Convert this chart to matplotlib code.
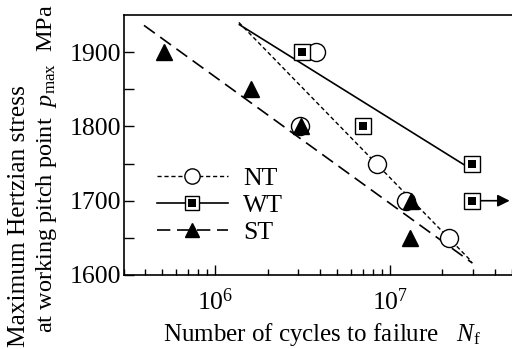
import matplotlib
matplotlib.use('Agg')
import matplotlib.pyplot as plt
from matplotlib.ticker import FixedLocator, LogLocator, NullFormatter, LogFormatterSciNotation
from matplotlib.lines import Line2D

plt.rcParams['font.family'] = ['Liberation Serif', 'DejaVu Serif']
plt.rcParams['mathtext.fontset'] = 'custom'
plt.rcParams['mathtext.rm'] = 'Liberation Serif'
plt.rcParams['mathtext.it'] = 'Liberation Serif:italic'
plt.rcParams['mathtext.bf'] = 'Liberation Serif:bold'

# ---- data ----
nt_cycles = [3.8e6, 8.4e6, 3.05e6, 1.24e7, 2.17e7]
nt_stress = [1900, 1750, 1800, 1700, 1650]
wt_cycles = [3.16e6, 7.0e6, 2.94e7]
wt_stress = [1900, 1800, 1750]
wt_runout_cycles = [2.97e7]
wt_runout_stress = [1700]
wt_runout_arrow_end = [4.85e7]
st_cycles = [5.1e5, 1.61e6, 3.1e6, 1.33e7, 1.3e7]
st_stress = [1900, 1850, 1800, 1700, 1650]

nt_fit_cycles = [1.37e6, 2.94e7]
nt_fit_stress = [1940, 1618]
wt_fit_cycles = [1.38e6, 2.72e7]
wt_fit_stress = [1937, 1747]
st_fit_cycles = [3.93e5, 2.97e7]
st_fit_stress = [1936, 1616]

y_major = [1600, 1700, 1800, 1900]
y_minor = [1650, 1750, 1850]

FS = 18.5

fig = plt.figure(figsize=(5.12, 3.49), dpi=100)
ax = fig.add_axes([123.5 / 512, 1 - 275 / 349, 1 - 123.5 / 512, 260 / 349])

NT_DASH = (3, 2)
ST_DASH = (8, 4)

# fit lines
ax.plot(nt_fit_cycles, nt_fit_stress, color='k', lw=1.0, dashes=NT_DASH, zorder=2)
ax.plot(wt_fit_cycles, wt_fit_stress, color='k', lw=1.2, zorder=2)
ax.plot(st_fit_cycles, st_fit_stress, color='k', lw=1.2, dashes=ST_DASH, zorder=2)

# markers
ax.plot(nt_cycles, nt_stress, ls='none', marker='o', ms=13, mfc='white', mec='k', mew=1.0, zorder=3, clip_on=False)
ax.plot(wt_cycles + wt_runout_cycles, wt_stress + wt_runout_stress, ls='none', marker='s', ms=11.5,
        mfc='white', mec='k', mew=1.0, zorder=4, clip_on=False)
ax.plot(wt_cycles + wt_runout_cycles, wt_stress + wt_runout_stress, ls='none', marker='s', ms=6,
        mfc='k', mec='k', mew=0, zorder=4.5, clip_on=False)
ax.plot(st_cycles, st_stress, ls='none', marker='^', ms=11, mfc='k', mec='k', zorder=5, clip_on=False)

# run-out arrow
ax.annotate('', xy=(wt_runout_arrow_end[0], wt_runout_stress[0]),
            xytext=(wt_runout_cycles[0], wt_runout_stress[0]),
            arrowprops=dict(arrowstyle='-|>', color='k', lw=1.2, mutation_scale=18,
                            shrinkA=6, shrinkB=0),
            annotation_clip=False, zorder=4)

ax.set_xscale('log')
ax.set_xlim(3e5, 5e7)
ax.set_ylim(1600, 1950)

ax.xaxis.set_major_locator(FixedLocator([1e6, 1e7]))
ax.xaxis.set_major_formatter(LogFormatterSciNotation())
ax.xaxis.set_minor_locator(LogLocator(base=10, subs=range(2, 10)))
ax.xaxis.set_minor_formatter(NullFormatter())
ax.yaxis.set_major_locator(FixedLocator(y_major))
ax.yaxis.set_minor_locator(FixedLocator(y_minor))

ax.tick_params(axis='both', which='both', direction='in', labelsize=FS, width=1.0, color='k')
ax.tick_params(axis='x', which='major', length=7, pad=10)
ax.tick_params(axis='x', which='minor', length=4.5)
ax.tick_params(axis='y', which='both', length=7, pad=2)
ax.spines['right'].set_visible(False)
for s in ['left', 'bottom', 'top']:
    ax.spines[s].set_linewidth(1.2)

fig.text(322 / 512, 1 - 334 / 349, r'Number of cycles to failure   $N_{\rm f}$',
         ha='center', va='center', fontsize=18)

fig.text(8 / 512, 1 - 347 / 349, 'Maximum Hertzian stress', rotation=90,
         ha='left', va='bottom', fontsize=18.3)
fig.text(34 / 512, 1 - 333 / 349, r'at working pitch point  $p_{\rm max}$  MPa', rotation=90,
         ha='left', va='bottom', fontsize=17.5)

# legend
h_nt = Line2D([], [], color='k', lw=1.0, dashes=NT_DASH, marker='o', ms=11, mfc='white', mec='k')
h_wt1 = Line2D([], [], color='k', lw=1.2, marker='s', ms=10, mfc='white', mec='k')
h_wt2 = Line2D([], [], ls='none', marker='s', ms=5.5, mfc='k', mec='k', mew=0)
h_st = Line2D([], [], color='k', lw=1.2, dashes=ST_DASH, marker='^', ms=10, mfc='k', mec='k')
ax.legend([h_nt, (h_wt1, h_wt2), h_st], ['NT', 'WT', 'ST'], loc='upper left',
          bbox_to_anchor=(0.085, 0.415), frameon=False, fontsize=FS, borderpad=0,
          borderaxespad=0, handlelength=2.8, handletextpad=0.58, labelspacing=0.15)

fig.savefig('out.png', dpi=100)
